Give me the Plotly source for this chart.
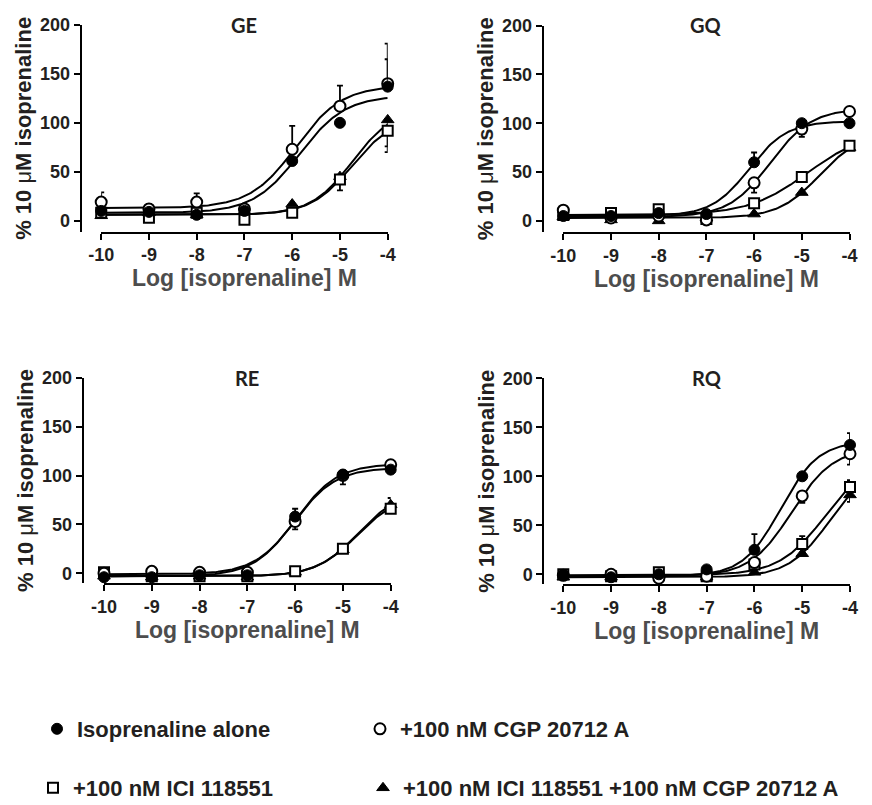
import numpy as np
import plotly.graph_objects as go

# ---------------------------------------------------------------- data
log_conc = [-10, -9, -8, -7, -6, -5, -4]
x_ticks = [-10, -9, -8, -7, -6, -5, -4]
y_ticks = [0, 50, 100, 150, 200]

panel_names = ["GE", "GQ", "RE", "RQ"]
series_labels = [
    "Isoprenaline alone",
    "+100 nM CGP 20712 A",
    "+100 nM ICI 118551",
    "+100 nM ICI 118551 +100 nM CGP 20712 A",
]

# mean responses (% of 10 uM isoprenaline)
ge_alone = [10, 9, 6, 10, 61, 100, 137]
ge_cgp = [19, 12, 19, 12, 73, 117, 140]
ge_ici = [8, 3, 8, 1, 8, 42, 92]
ge_ici_cgp = [5, 8, 6, 10, 17, 45, 103]

gq_alone = [5, 5, 8, 7, 60, 100, 100]
gq_cgp = [11, 3, 5, 1, 39, 94, 112]
gq_ici = [6, 8, 12, 2, 18, 45, 77]
gq_ici_cgp = [4, 1, 0, 3, 7, 29, 75]

re_alone = [-4, -4, -2, -2, 58, 101, 106]
re_cgp = [0, 2, 1, 1, 53, 100, 111]
re_ici = [1, -3, -3, -3, 2, 25, 66]
re_ici_cgp = [-3, -4, -3, -4, 1, 24, 70]

rq_alone = [-1, -3, 0, 5, 25, 100, 132]
rq_cgp = [-1, 0, -4, -2, 12, 80, 123]
rq_ici = [0, -2, 2, -2, 10, 31, 89]
rq_ici_cgp = [-3, -3, -1, -3, 2, 21, 81]

# SEM bars (upper / lower arm)
ge_alone_up = [0, 0, 0, 0, 0, 0, 28]
ge_alone_dn = [0, 0, 0, 0, 0, 0, 0]
ge_cgp_up = [10, 5, 9, 0, 24, 21, 41]
ge_cgp_dn = [0, 0, 0, 0, 0, 0, 0]
ge_ici_up = [0, 0, 0, 0, 0, 0, 0]
ge_ici_dn = [0, 0, 0, 0, 0, 11, 16]
ge_ici_cgp_up = [0, 0, 0, 0, 0, 0, 0]
ge_ici_cgp_dn = [0, 0, 0, 0, 0, 0, 33]

gq_alone_up = [0, 0, 0, 0, 10, 0, 0]
gq_alone_dn = [0, 0, 0, 0, 0, 0, 0]
gq_cgp_up = [0, 0, 0, 0, 0, 0, 0]
gq_cgp_dn = [0, 0, 0, 0, 10, 8, 0]
gq_ici_up = [0, 0, 0, 0, 0, 5, 0]
gq_ici_dn = [0, 0, 0, 0, 0, 0, 0]
gq_ici_cgp_up = [0, 0, 0, 0, 0, 0, 0]
gq_ici_cgp_dn = [0, 0, 0, 0, 0, 0, 0]

re_alone_up = [0, 0, 0, 0, 8, 0, 0]
re_alone_dn = [0, 0, 0, 0, 0, 10, 0]
re_cgp_up = [0, 0, 0, 0, 0, 0, 0]
re_cgp_dn = [0, 0, 0, 0, 8, 0, 0]
re_ici_up = [0, 0, 0, 0, 0, 0, 0]
re_ici_dn = [0, 0, 0, 0, 0, 0, 0]
re_ici_cgp_up = [0, 0, 0, 0, 0, 0, 7]
re_ici_cgp_dn = [0, 0, 0, 0, 0, 0, 0]

rq_alone_up = [0, 0, 0, 0, 16, 0, 12]
rq_alone_dn = [0, 0, 0, 0, 0, 0, 0]
rq_cgp_up = [0, 0, 0, 0, 0, 0, 0]
rq_cgp_dn = [0, 0, 0, 0, 0, 7, 11]
rq_ici_up = [0, 0, 0, 0, 0, 8, 7]
rq_ici_dn = [0, 0, 0, 0, 0, 0, 0]
rq_ici_cgp_up = [0, 0, 0, 0, 0, 0, 0]
rq_ici_cgp_dn = [0, 0, 0, 0, 0, 0, 7]

# fitted sigmoid parameters: bottom, top, logEC50, Hill slope
ge_alone_fit = [8, 128, -5.85, 0.9]
ge_cgp_fit = [13, 138, -5.92, 0.9]
ge_ici_fit = [6, 106, -4.75, 1.0]
ge_ici_cgp_fit = [6, 115, -4.74, 1.0]

gq_alone_fit = [5, 102, -6.10, 1.1]
gq_cgp_fit = [4, 115, -5.66, 1.0]
gq_ici_fit = [6, 93, -4.87, 0.7]
gq_ici_cgp_fit = [3, 91, -4.62, 1.0]

re_alone_fit = [-3, 108, -6.02, 1.0]
re_cgp_fit = [-1, 112, -5.98, 1.0]
re_ici_fit = [-3, 81, -4.70, 1.0]
re_ici_cgp_fit = [-3, 85, -4.68, 1.0]

rq_alone_fit = [-2, 136, -5.45, 1.1]
rq_cgp_fit = [-2, 129, -5.22, 1.0]
rq_ici_fit = [-1, 120, -4.52, 0.9]
rq_ici_cgp_fit = [-3, 113, -4.42, 1.0]

panel_series = {
    "GE": [(ge_alone, ge_alone_up, ge_alone_dn, ge_alone_fit),
           (ge_cgp, ge_cgp_up, ge_cgp_dn, ge_cgp_fit),
           (ge_ici, ge_ici_up, ge_ici_dn, ge_ici_fit),
           (ge_ici_cgp, ge_ici_cgp_up, ge_ici_cgp_dn, ge_ici_cgp_fit)],
    "GQ": [(gq_alone, gq_alone_up, gq_alone_dn, gq_alone_fit),
           (gq_cgp, gq_cgp_up, gq_cgp_dn, gq_cgp_fit),
           (gq_ici, gq_ici_up, gq_ici_dn, gq_ici_fit),
           (gq_ici_cgp, gq_ici_cgp_up, gq_ici_cgp_dn, gq_ici_cgp_fit)],
    "RE": [(re_alone, re_alone_up, re_alone_dn, re_alone_fit),
           (re_cgp, re_cgp_up, re_cgp_dn, re_cgp_fit),
           (re_ici, re_ici_up, re_ici_dn, re_ici_fit),
           (re_ici_cgp, re_ici_cgp_up, re_ici_cgp_dn, re_ici_cgp_fit)],
    "RQ": [(rq_alone, rq_alone_up, rq_alone_dn, rq_alone_fit),
           (rq_cgp, rq_cgp_up, rq_cgp_dn, rq_cgp_fit),
           (rq_ici, rq_ici_up, rq_ici_dn, rq_ici_fit),
           (rq_ici_cgp, rq_ici_cgp_up, rq_ici_cgp_dn, rq_ici_cgp_fit)],
}

# ---------------------------------------------------------------- layout geometry (pixels)
W, H = 872, 805
FONT = "Liberation Sans, Arial, sans-serif"
# y-axis line x, x-range left/right px, y=200 px, y=0 px, x-axis line px
panel_geom = {
    "GE": (80.7, 101.2, 387.7, 25.0, 220.7, 231.7),
    "GQ": (542.7, 563.3, 849.5, 25.5, 220.9, 231.9),
    "RE": (82.7, 104.0, 390.7, 377.7, 573.3, 583.3),
    "RQ": (543.3, 563.3, 850.0, 378.3, 574.3, 584.3),
}
# legend box anchors (left px, centre-line px) for the four keys
legend_pos = [(37, 729), (360, 729), (33, 788), (363, 788)]
legend_ids = ["legend", "legend2", "legend3", "legend4"]

marker_styles = [
    dict(symbol="circle", size=11, color="black", line=dict(color="black", width=1)),
    dict(symbol="circle", size=11, color="white", line=dict(color="black", width=2)),
    dict(symbol="square", size=10, color="white", line=dict(color="black", width=2)),
    dict(symbol="triangle-up", size=11, color="black", line=dict(color="black", width=1)),
]
draw_order = [3, 2, 1, 0]


def hill_curve(params, x):
    bottom, top, logec50, hill = params
    return bottom + (top - bottom) / (1.0 + 10.0 ** ((logec50 - x) * hill))


fig = go.Figure()
x_fine = np.linspace(log_conc[0], log_conc[-1], 200)
layout_axes = {}
annotations = []

for i, name in enumerate(panel_names):
    n = "" if i == 0 else str(i + 1)
    xa, ya = "x" + n, "y" + n
    y_line_px, x_lo_px, x_hi_px, top_px, zero_px, bot_px = panel_geom[name]
    px_per_unit = (zero_px - top_px) / 200.0
    y_min = -(bot_px - zero_px) / px_per_unit

    # fitted curves
    for s in range(4):
        _, _, _, fit = panel_series[name][s]
        fig.add_trace(go.Scatter(
            x=x_fine, y=hill_curve(fit, x_fine), mode="lines",
            line=dict(color="black", width=2), xaxis=xa, yaxis=ya,
            showlegend=False, hoverinfo="skip"))

    # data points with SEM
    for s in draw_order:
        vals, up, dn, _ = panel_series[name][s]
        fig.add_trace(go.Scatter(
            x=log_conc, y=vals, mode="markers",
            marker=marker_styles[s],
            error_y=dict(type="data", array=up, arrayminus=dn, symmetric=False,
                         color="black", thickness=1.8, width=3),
            xaxis=xa, yaxis=ya, cliponaxis=False,
            name=series_labels[s],
            showlegend=(i == 0),
            legend=legend_ids[s]))

    layout_axes["xaxis" + n] = dict(
        domain=[x_lo_px / W, x_hi_px / W], range=[-10, -4], anchor=ya,
        automargin=False,
        tickmode="array", tickvals=x_ticks, ticktext=[str(t) for t in x_ticks],
        showline=True, linecolor="black", linewidth=2,
        ticks="outside", ticklen=6, tickwidth=2, tickcolor="black",
        showgrid=False, zeroline=False,
        tickfont=dict(family=FONT, size=18, color="#231f20", weight="bold"),
        title=dict(text="Log [isoprenaline] M", standoff=6,
                   font=dict(family=FONT, size=23, color="#4d4d4d", weight="bold")),
    )
    layout_axes["yaxis" + n] = dict(
        domain=[1 - bot_px / H, 1 - top_px / H], range=[y_min, 200],
        anchor="free", position=y_line_px / W, automargin=False,
        tickmode="array", tickvals=y_ticks, ticktext=[str(t) for t in y_ticks],
        showline=True, linecolor="black", linewidth=2,
        ticks="outside", ticklen=6, tickwidth=2, tickcolor="black",
        showgrid=False, zeroline=False,
        tickfont=dict(family=FONT, size=18, color="#231f20", weight="bold"),
        title=dict(text="% 10 <span style='font-weight:normal'>\u03bc</span>M isoprenaline",
                   standoff=1,
                   font=dict(family=FONT, size=22, color="#231f20", weight="bold")),
    )
    annotations.append(dict(
        text=name, xref=xa + " domain", yref=ya + " domain", x=0.5, y=1.0,
        xanchor="center", yanchor="middle", showarrow=False,
        font=dict(family="Lato, sans-serif", size=20, color="#231f20", weight="bold")))

legend_layout = {}
for lid, (lx, ly) in zip(legend_ids, legend_pos):
    legend_layout[lid] = dict(
        x=lx / W, y=1 - ly / H, xanchor="left", yanchor="middle",
        orientation="v",
        font=dict(family=FONT, size=22, color="#231f20", weight="bold"),
        bgcolor="rgba(0,0,0,0)", itemsizing="trace")

fig.update_layout(
    width=W, height=H,
    margin=dict(l=0, r=0, t=0, b=0, autoexpand=False),
    paper_bgcolor="white", plot_bgcolor="white",
    showlegend=True,
    annotations=annotations,
    **legend_layout,
    **layout_axes,
)

fig.write_html("out.html")
